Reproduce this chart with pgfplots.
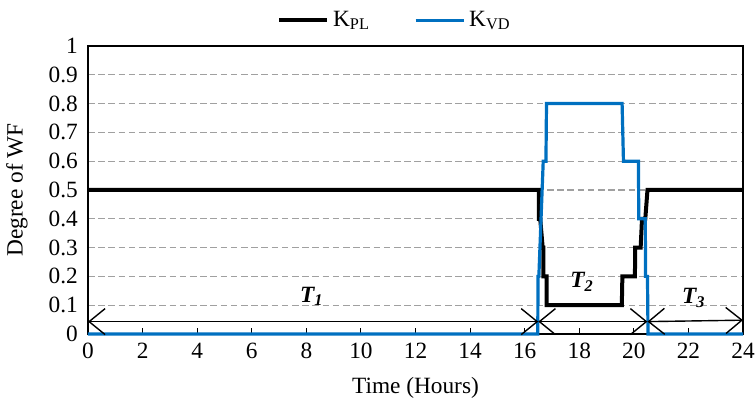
\documentclass[border=0pt]{standalone}
\usepackage{fontspec}
\setmainfont{Liberation Serif}
\usepackage{pgfplots}
\pgfplotsset{compat=1.18}
\usetikzlibrary{arrows.meta, calc}
\definecolor{kvd}{RGB}{0,112,192}
\definecolor{gridgray}{RGB}{160,160,160}

\begin{document}
\fontsize{11.7}{14}\selectfont
\begin{tikzpicture}[
    period/.style={black, line width=0.7bp,
        {Straight Barb[length=8bp,width=13bp]}-{Straight Barb[length=8bp,width=13bp]}},
]
\begin{axis}[
    scale only axis,
    width=327.5bp, height=144bp,
    xmin=0, xmax=24, ymin=0, ymax=1,
    xtick={0,2,...,24},
    ytick={0,0.1,0.2,0.3,0.4,0.5,0.6,0.7,0.8,0.9,1},
    /pgf/number format/assume math mode=true,
    yticklabel style={/pgf/number format/fixed, /pgf/number format/precision=1, xshift=-1bp},
    xticklabel style={yshift=-0.5bp},
    xtick pos=bottom, ytick pos=left,
    tick align=inside,
    major tick length=3bp,
    ytick style={draw=none},
    xtick style={black, line width=0.5bp},
    axis line style={black, line width=0.6bp},
    ymajorgrids,
    grid style={gridgray, line width=0.6bp, dash pattern=on 3.3bp off 1.8bp},
    every axis x label/.style={at={(rel axis cs:0.5,0)}, yshift=-27bp, anchor=center},
    every axis y label/.style={at={(rel axis cs:0,0.5)}, xshift=-35.5bp, rotate=90, anchor=center},
    xlabel={Time (Hours)},
    ylabel={Degree of WF},
    legend columns=2,
    legend style={at={(0.47,1)}, anchor=south, yshift=4bp, draw=none, fill=none,
        /tikz/every even column/.append style={column sep=20bp}},
    legend image code/.code={\draw[#1] (0bp,0bp) -- (24bp,0bp);},
    clip=false,
]
% K_PL
\addplot[black, line width=2bp, line join=miter] coordinates {
    (0,0.5) (16.52,0.5) (16.52,0.4) (16.57,0.4) (16.66,0.3) (16.69,0.3)
    (16.69,0.2) (16.8,0.2) (16.8,0.1) (19.56,0.1) (19.58,0.2) (20.04,0.2)
    (20.05,0.3) (20.25,0.3) (20.3,0.4) (20.42,0.4) (20.5,0.5) (24,0.5)
};
\addlegendentry{K\textsubscript{PL}}
% K_VD
\addplot[kvd, line width=1.6bp, line join=miter] coordinates {
    (0,0) (16.48,0) (16.49,0.2) (16.52,0.2) (16.68,0.6) (16.78,0.6)
    (16.8,0.8) (19.57,0.8) (19.62,0.6) (20.17,0.6) (20.18,0.4) (20.42,0.4)
    (20.43,0.2) (20.5,0.2) (20.52,0) (24,0)
};
\addlegendentry{K\textsubscript{VD}}
% period arrows
\draw[period] (axis cs:0,0.043) -- (axis cs:16.5,0.043);
\draw[period] (axis cs:16.5,0.043) -- (axis cs:20.5,0.043);
\draw[period] (axis cs:20.5,0.043) -- (axis cs:24,0.048);
\node at (axis cs:8.2,0.13) {\textbf{\textit{T\textsubscript{1}}}};
\node at (axis cs:18.1,0.18) {\textbf{\textit{T\textsubscript{2}}}};
\node at (axis cs:22.2,0.125) {\textbf{\textit{T\textsubscript{3}}}};
\coordinate (bl) at (rel axis cs:0,0);
\end{axis}
\pgfresetboundingbox
\path ($(bl)+(-44bp,-33.5bp)$) rectangle ($(bl)+(333.5bp,167bp)$);
\end{tikzpicture}
\end{document}
